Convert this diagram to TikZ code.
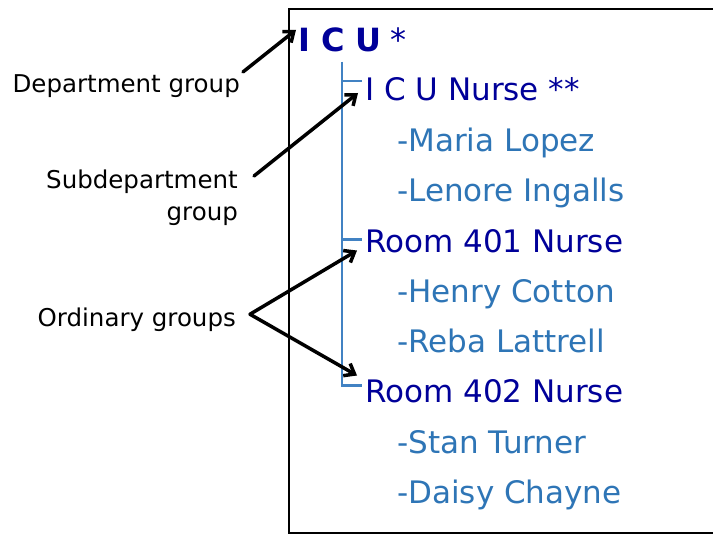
\documentclass[tikz,border=0pt]{standalone}
\usepackage{fontspec}
\setmainfont{DejaVu Sans}
\usetikzlibrary{arrows.meta,positioning}
\definecolor{deptblue}{RGB}{0,0,153}
\definecolor{staffblue}{RGB}{46,117,182}
\definecolor{treeblue}{RGB}{65,130,195}

\begin{document}
\begin{tikzpicture}[x=1pt, y=-1pt,
    grp/.style={inner sep=0pt, anchor=base west, text height=22pt, text depth=6pt, font=\fontsize{31}{36}\selectfont, text=deptblue},
    staff/.style={grp, text=staffblue},
    note/.style={inner sep=0pt, align=right, font=\fontsize{24.5}{32}\selectfont},
    pointer/.style={-{Straight Barb[length=9pt,width=14pt]}, line width=3.5pt, line cap=round},
    tree/.style={treeblue, line width=2.5pt},
    frame/.style={draw=black, line width=2pt}
]
    \clip (0,0) rectangle (713,535);

    % Group box (runs off the right edge)
    \draw[frame] (289,9) rectangle (760,533);

    % Department
    \node[grp, font=\fontsize{32}{36}\selectfont] (icu) at (298,52) {\bfseries I C U\mdseries\hspace{9pt}*};

    % Subdepartment
    \node[grp] (icunurse) at (365,101) {I C U Nurse **};
    \node[staff] (maria) at (397,151) {-Maria Lopez};
    \node[staff] (lenore) at (397,201.5) {-Lenore Ingalls};

    % Ordinary groups
    \node[grp] (room401) at (365,252.5) {Room 401 Nurse};
    \node[staff] (henry) at (397,302.5) {-Henry Cotton};
    \node[staff] (reba) at (397,352.5) {-Reba Lattrell};
    \node[grp] (room402) at (365,402.5) {Room 402 Nurse};
    \node[staff] (stan) at (397,453) {-Stan Turner};
    \node[staff] (daisy) at (397,503) {-Daisy Chayne};

    % Tree lines
    \coordinate (stem) at (342,62);
    \draw[tree] (stem) |- ([xshift=-3pt,yshift=12pt]icunurse.west);
    \draw[tree] (stem |- room401.west) ++(0,-5) -- ([xshift=-3pt,yshift=5pt]room401.west);
    \draw[tree] (stem) |- ([xshift=-3pt,yshift=9pt]room402.west);

    % Notes
    \node[note, anchor=base east] (deptnote) at (240,93) {Department group};
    \node[note, anchor=north east] (subnote) at (238,170) {Subdepartment\\group};
    \node[note, anchor=base east] (ordnote) at (236,326) {Ordinary groups};

    \draw[pointer] ([shift={(3pt,3pt)}]deptnote.north east) -- ([xshift=-2pt]icu.north west);
    \draw[pointer] ([shift={(16pt,-6pt)}]subnote.north east) -- ([xshift=-7pt]icunurse.west);
    \draw[pointer] ([shift={(14pt,5pt)}]ordnote.east) -- ([shift={(-8pt,-6pt)}]room401.west);
    \draw[pointer] ([shift={(14pt,5pt)}]ordnote.east) -- ([shift={(-8pt,19pt)}]room402.west);
\end{tikzpicture}
\end{document}
